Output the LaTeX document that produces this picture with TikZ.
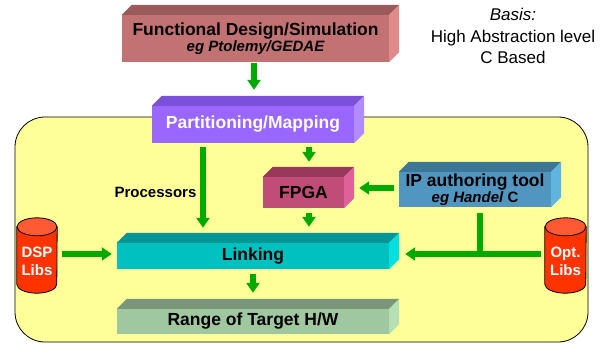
\documentclass[tikz,border=0pt]{standalone}
\usepackage{fontspec}
\setmainfont{Liberation Sans}
\usetikzlibrary{arrows.meta,calc}
\definecolor{bgyellow}{HTML}{FFFF99}
\definecolor{arrgreen}{HTML}{00AA00}
\definecolor{fdF}{HTML}{C27272}\definecolor{fdT}{HTML}{9A5A5A}\definecolor{fdS}{HTML}{E08A8A}
\definecolor{ptF}{HTML}{9966FF}\definecolor{ptT}{HTML}{7C50D8}\definecolor{ptS}{HTML}{B08CFF}
\definecolor{fpF}{HTML}{C04C78}\definecolor{fpT}{HTML}{98385A}\definecolor{fpS}{HTML}{E0609A}
\definecolor{ipF}{HTML}{5096C0}\definecolor{ipT}{HTML}{3C7896}\definecolor{ipS}{HTML}{60B4E0}
\definecolor{lkF}{HTML}{00C0C0}\definecolor{lkT}{HTML}{009696}\definecolor{lkS}{HTML}{00E0E0}
\definecolor{rgF}{HTML}{A0C8A0}\definecolor{rgT}{HTML}{7A967A}\definecolor{rgS}{HTML}{B4E0B4}
\definecolor{canB}{HTML}{FF3300}\definecolor{canT}{HTML}{FF5A33}
\newcommand\slabfaces[3]{%
  \fill[#2] (#1.north west) -- ++(10,-10) -- ($(#1.north east)+(10,-10)$) -- (#1.north east) -- cycle;
  \fill[#3] (#1.north east) -- ++(10,-10) -- ($(#1.south east)+(10,-10)$) -- (#1.south east) -- cycle;}
\newcommand\canshape[2]{%
  \filldraw[fill=canB,line width=0.8pt] (#1.north west) -- ($(#1.south west)+(0,-9)$)
    arc[start angle=180,end angle=360,x radius=#2,y radius=9pt] -- (#1.north east) -- cycle;
  \filldraw[fill=canT,line width=0.8pt] (#1.north) ellipse[x radius=#2,y radius=9pt];}
\tikzset{
  slab/.style={inner sep=0pt, font=\fontsize{17.5}{18}\selectfont\bfseries, align=center},
  arr/.style={draw=arrgreen, line width=5.5pt, -{Triangle[width=13pt,length=10pt]}},
  plain/.style={draw=arrgreen, line width=5.5pt},
  canbox/.style={inner sep=0pt, minimum width=40pt, minimum height=66pt},
  cantext/.style={text=white, font=\fontsize{15}{18}\selectfont\bfseries, align=center},
}
\begin{document}
\begin{tikzpicture}[x=1pt,y=-1pt]
\useasboundingbox (0,0) rectangle (609,343);
% background panel
\draw[fill=bgyellow, rounded corners=30pt, line width=0.8pt] (15,117) rectangle (588,342);
% Basis text
\node[align=center, font=\fontsize{17}{21.5}\selectfont] (basis) at (513,36)
  {\textit{Basis:}\\High Abstraction level\\C Based};
% 3D boxes
\node[slab, fill=fdF, minimum width=267pt, minimum height=47pt] (fd) at (255.5,38.5)
  {\raisebox{-2pt}{Functional Design/Simulation}\\[0pt]{\fontsize{15}{16}\selectfont\itshape eg Ptolemy/GEDAE}};
\slabfaces{fd}{fdT}{fdS}
\node[slab, fill=ptF, text=white, minimum width=202pt, minimum height=37pt] (part) at (253,124.5)
  {Partitioning/Mapping};
\slabfaces{part}{ptT}{ptS}
\node[slab, fill=fpF, minimum width=81pt, minimum height=31pt] (fpga) at (303.5,192.5) {FPGA};
\slabfaces{fpga}{fpT}{fpS}
\node[slab, fill=ipF, minimum width=152pt, minimum height=35pt] (ip) at (475,189.5)
  {IP authoring tool\\[-2pt]{\fontsize{15}{16}\selectfont\itshape eg Handel}{\fontsize{15}{16}\selectfont\ C}};
\slabfaces{ip}{ipT}{ipS}
\node[slab, fill=lkF, minimum width=272pt, minimum height=26pt] (link) at (253,256) {\raisebox{-2pt}{Linking}};
\slabfaces{link}{lkT}{lkS}
\node[slab, fill=rgF, minimum width=272pt, minimum height=25pt] (range) at (253,321.5) {Range of Target H/W};
\slabfaces{range}{rgT}{rgS}
% cylinders
\path node[canbox] (dsp) at (37,260) {};
\canshape{dsp}{20pt}
\node[cantext] (dsptext) at (37,261) {DSP\\Libs};
\path node[canbox, minimum width=41pt] (opt) at (565.5,260) {};
\canshape{opt}{20.5pt}
\node[cantext] (opttext) at (565.5,261) {Opt.\\Libs};
% label
\node[font=\fontsize{15}{16}\selectfont\bfseries] (proc) at (155.5,192) {Processors};
% connectors
\draw[arr] ($(fd.south)+(-1.5,1)$) -- ($(fd.south |- part.north)+(-1.5,-16)$);
\draw[arr] ($(part.south)+(-50,4)$) -- ($(link.north)+(-50,-15)$);
\draw[arr] ($(fpga.north |- part.south)+(5.5,4)$) -- ($(fpga.north)+(5.5,-15)$);
\draw[arr] ($(fpga.south)+(5.5,5)$) -- ($(fpga.south |- link.north)+(5.5,-16)$);
\draw[arr] ($(ip.west)+(-5,-1.5)$) -- ($(fpga.east |- ip.west)+(15,-1.5)$);
\draw[arr] ($(dsp.east)+(5,-6)$) -- ($(link.west)+(-5,-2)$);
\coordinate (jn) at ($(ip.south)+(5,47)$);
\draw[plain] ($(ip.south)+(5,6)$) -- (jn);
\draw[arr] ($(opt.west)+(-4,-6)$) -- ($(link.east)+(16,-2)$);
\draw[arr] ($(link.south)+(0,5)$) -- ($(range.north)+(0,-16)$);
\end{tikzpicture}
\end{document}
